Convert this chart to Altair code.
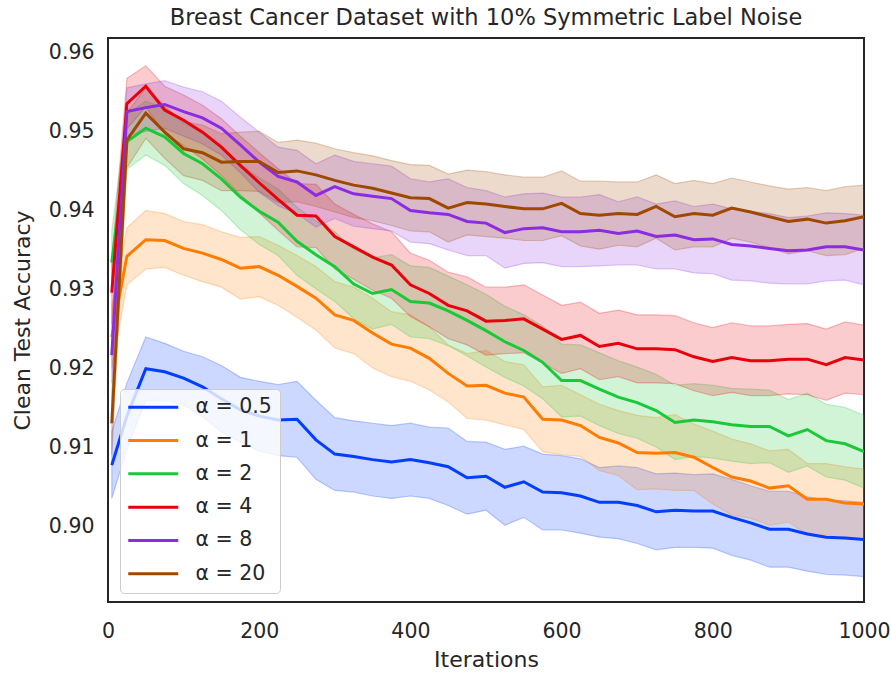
import altair as alt
import pandas as pd

# Training iterations at which clean test accuracy was evaluated
iterations = [5, 25, 50, 75, 100,
              125, 150, 175, 200, 225,
              250, 275, 300, 325, 350,
              375, 400, 425, 450, 475,
              500, 525, 550, 575, 600,
              625, 650, 675, 700, 725,
              750, 775, 800, 825, 850,
              875, 900, 925, 950, 975,
              1000]

labels = ["α = 0.5", "α = 1", "α = 2", "α = 4", "α = 8", "α = 20"]
colors = ["#023eff", "#ff7c00", "#1ac938", "#e8000b", "#8b2be2", "#9f4800"]

# Mean clean test accuracy per alpha
acc_a05 = [0.9078, 0.9140, 0.9200, 0.9196, 0.9188,
           0.9177, 0.9162, 0.9148, 0.9140, 0.9135,
           0.9136, 0.9110, 0.9092, 0.9089, 0.9085,
           0.9082, 0.9085, 0.9081, 0.9076, 0.9062,
           0.9064, 0.9050, 0.9057, 0.9044, 0.9043,
           0.9039, 0.9031, 0.9031, 0.9027, 0.9019,
           0.9021, 0.9020, 0.9020, 0.9012, 0.9005,
           0.8997, 0.8997, 0.8991, 0.8987, 0.8986,
           0.8984]
acc_a1 = [0.9240, 0.9342, 0.9363, 0.9362, 0.9352,
          0.9346, 0.9338, 0.9327, 0.9329, 0.9318,
          0.9304, 0.9289, 0.9268, 0.9261, 0.9245,
          0.9231, 0.9226, 0.9213, 0.9194, 0.9178,
          0.9179, 0.9169, 0.9164, 0.9136, 0.9135,
          0.9128, 0.9113, 0.9106, 0.9094, 0.9093,
          0.9094, 0.9088, 0.9075, 0.9063, 0.9058,
          0.9049, 0.9052, 0.9035, 0.9035, 0.9030,
          0.9029]
acc_a2 = [0.9334, 0.9487, 0.9504, 0.9493, 0.9472,
          0.9459, 0.9440, 0.9417, 0.9399, 0.9385,
          0.9361, 0.9344, 0.9329, 0.9307, 0.9295,
          0.9300, 0.9285, 0.9283, 0.9273, 0.9261,
          0.9248, 0.9234, 0.9223, 0.9208, 0.9185,
          0.9185, 0.9174, 0.9164, 0.9157, 0.9147,
          0.9132, 0.9135, 0.9133, 0.9129, 0.9127,
          0.9127, 0.9115, 0.9123, 0.9109, 0.9105,
          0.9095]
acc_a4 = [0.9296, 0.9535, 0.9557, 0.9527, 0.9514,
          0.9499, 0.9480, 0.9457, 0.9435, 0.9414,
          0.9394, 0.9393, 0.9367, 0.9354, 0.9341,
          0.9331, 0.9306, 0.9295, 0.9280, 0.9273,
          0.9260, 0.9261, 0.9263, 0.9250, 0.9237,
          0.9242, 0.9228, 0.9232, 0.9225, 0.9225,
          0.9224, 0.9215, 0.9209, 0.9214, 0.9210,
          0.9210, 0.9212, 0.9212, 0.9205, 0.9214,
          0.9211]
acc_a8 = [0.9217, 0.9525, 0.9530, 0.9534, 0.9525,
          0.9517, 0.9504, 0.9483, 0.9461, 0.9443,
          0.9436, 0.9419, 0.9430, 0.9421, 0.9418,
          0.9415, 0.9400, 0.9397, 0.9395, 0.9386,
          0.9384, 0.9372, 0.9377, 0.9378, 0.9373,
          0.9373, 0.9375, 0.9371, 0.9374, 0.9367,
          0.9369, 0.9363, 0.9364, 0.9357, 0.9355,
          0.9352, 0.9349, 0.9350, 0.9354, 0.9354,
          0.9350]
acc_a20 = [0.9131, 0.9489, 0.9523, 0.9499, 0.9478,
           0.9473, 0.9461, 0.9462, 0.9462, 0.9448,
           0.9450, 0.9445, 0.9438, 0.9432, 0.9428,
           0.9422, 0.9416, 0.9415, 0.9403, 0.9410,
           0.9408, 0.9405, 0.9402, 0.9402, 0.9409,
           0.9396, 0.9394, 0.9396, 0.9395, 0.9405,
           0.9392, 0.9396, 0.9394, 0.9403, 0.9398,
           0.9392, 0.9386, 0.9389, 0.9384, 0.9387,
           0.9392]

# Half-width of the shaded spread around each mean
err_a05 = [0.0042, 0.0042, 0.0040, 0.0036, 0.0034,
           0.0038, 0.0042, 0.0041, 0.0044, 0.0045,
           0.0048, 0.0050, 0.0046, 0.0045, 0.0046,
           0.0046, 0.0046, 0.0045, 0.0049, 0.0046,
           0.0043, 0.0048, 0.0045, 0.0048, 0.0047,
           0.0047, 0.0044, 0.0046, 0.0048, 0.0048,
           0.0047, 0.0046, 0.0047, 0.0048, 0.0047,
           0.0048, 0.0048, 0.0047, 0.0047, 0.0047,
           0.0047]
err_a1 = [0.0040, 0.0036, 0.0037, 0.0034, 0.0034,
          0.0036, 0.0035, 0.0039, 0.0038, 0.0038,
          0.0039, 0.0040, 0.0042, 0.0042, 0.0044,
          0.0041, 0.0042, 0.0040, 0.0036, 0.0041,
          0.0044, 0.0040, 0.0041, 0.0041, 0.0044,
          0.0039, 0.0042, 0.0041, 0.0047, 0.0045,
          0.0048, 0.0042, 0.0046, 0.0048, 0.0047,
          0.0047, 0.0046, 0.0045, 0.0045, 0.0046,
          0.0044]
err_a2 = [0.0040, 0.0035, 0.0034, 0.0036, 0.0038,
          0.0040, 0.0040, 0.0041, 0.0042, 0.0042,
          0.0043, 0.0043, 0.0044, 0.0044, 0.0045,
          0.0044, 0.0045, 0.0045, 0.0044, 0.0045,
          0.0046, 0.0045, 0.0045, 0.0046, 0.0046,
          0.0045, 0.0046, 0.0046, 0.0045, 0.0046,
          0.0047, 0.0046, 0.0046, 0.0046, 0.0047,
          0.0046, 0.0046, 0.0046, 0.0046, 0.0046,
          0.0046]
err_a4 = [0.0040, 0.0032, 0.0026, 0.0030, 0.0032,
          0.0034, 0.0036, 0.0037, 0.0038, 0.0039,
          0.0040, 0.0040, 0.0041, 0.0041, 0.0042,
          0.0042, 0.0040, 0.0042, 0.0042, 0.0043,
          0.0043, 0.0042, 0.0043, 0.0043, 0.0043,
          0.0042, 0.0042, 0.0042, 0.0043, 0.0043,
          0.0043, 0.0043, 0.0043, 0.0044, 0.0044,
          0.0044, 0.0044, 0.0045, 0.0045, 0.0045,
          0.0044]
err_a8 = [0.0035, 0.0030, 0.0030, 0.0030, 0.0031,
          0.0033, 0.0034, 0.0035, 0.0038, 0.0037,
          0.0040, 0.0040, 0.0040, 0.0041, 0.0041,
          0.0041, 0.0040, 0.0039, 0.0045, 0.0043,
          0.0041, 0.0045, 0.0044, 0.0044, 0.0044,
          0.0044, 0.0045, 0.0040, 0.0043, 0.0041,
          0.0043, 0.0042, 0.0044, 0.0045, 0.0044,
          0.0044, 0.0042, 0.0043, 0.0043, 0.0042,
          0.0044]
err_a20 = [0.0040, 0.0035, 0.0032, 0.0033, 0.0034,
           0.0035, 0.0036, 0.0037, 0.0038, 0.0038,
           0.0039, 0.0040, 0.0040, 0.0041, 0.0041,
           0.0041, 0.0042, 0.0042, 0.0043, 0.0041,
           0.0041, 0.0040, 0.0040, 0.0040, 0.0041,
           0.0041, 0.0043, 0.0040, 0.0041, 0.0040,
           0.0042, 0.0042, 0.0040, 0.0038, 0.0038,
           0.0039, 0.0041, 0.0040, 0.0041, 0.0043,
           0.0040]

x_ticks = [0, 200, 400, 600, 800, 1000]
y_ticks = [0.90, 0.91, 0.92, 0.93, 0.94, 0.95, 0.96]

means = [acc_a05, acc_a1, acc_a2, acc_a4, acc_a8, acc_a20]
errs = [err_a05, err_a1, err_a2, err_a4, err_a8, err_a20]

rows = []
for label, m_list, e_list in zip(labels, means, errs):
    for it, m, e in zip(iterations, m_list, e_list):
        rows.append({"iteration": it, "alpha": label,
                     "mean": m, "lo": m - e, "hi": m + e})
df = pd.DataFrame(rows)

FONT = "DejaVu Sans"
TEXT = "#262626"

x_enc = alt.X(
    "iteration:Q",
    scale=alt.Scale(domain=[0, 1000], nice=False, zero=False),
    axis=alt.Axis(values=x_ticks, title="Iterations", format="d",
                  labelFlush=False, labelPadding=19, titlePadding=8),
)
y_axis = alt.Axis(values=y_ticks, title="Clean Test Accuracy", format=".2f",
                  labelFlush=False, labelPadding=14, titlePadding=14)
y_scale = alt.Scale(domain=[0.8905, 0.9618], nice=False, zero=False)

# One translucent spread band per alpha, each in its series colour
bands = [
    alt.Chart(df).transform_filter(alt.datum.alpha == label).mark_area(
        color=col, fillOpacity=0.2, stroke=col, strokeOpacity=0.25,
        strokeWidth=1.2, clip=True,
    ).encode(
        x=x_enc,
        y=alt.Y("lo:Q", scale=y_scale, axis=y_axis),
        y2="hi:Q",
    )
    for label, col in zip(labels, colors)
]

lines = alt.Chart(df).mark_line(strokeWidth=3, clip=True).encode(
    x=x_enc,
    y=alt.Y("mean:Q", scale=y_scale, axis=y_axis),
    color=alt.Color(
        "alpha:N",
        scale=alt.Scale(domain=labels, range=colors),
        legend=alt.Legend(
            title=None,
            orient="none",
            legendX=12,
            legendY=351,
            symbolType="M-5,0H5",
            symbolSize=100,
            symbolStrokeWidth=3,
            symbolOffset=15,
            labelOffset=32,
            rowPadding=12.3,
            padding=8,
            fillColor="rgba(255,255,255,0.8)",
            strokeColor="#cccccc",
            cornerRadius=4,
            labelFont=FONT,
            labelFontSize=20.5,
            labelColor=TEXT,
        ),
    ),
)

chart = alt.layer(*bands, lines).properties(
    width=756,
    height=564,
    padding={"left": 108, "top": 38, "right": 27, "bottom": 75},
    autosize=alt.AutoSizeParams(type="none"),
    background="white",
    title=alt.TitleParams(
        "Breast Cancer Dataset with 10% Symmetric Label Noise",
        font=FONT, fontSize=22.5, fontWeight="normal", color=TEXT,
        anchor="middle", offset=9,
    ),
).configure_view(
    stroke=TEXT, strokeWidth=2
).configure_axis(
    domain=False, ticks=False, grid=False,
    labelFont=FONT, labelFontSize=20.5, labelColor=TEXT,
    titleFont=FONT, titleFontSize=22, titleFontWeight="normal", titleColor=TEXT,
)

chart.save("out.html", embed_options={"renderer": "svg", "actions": False})
